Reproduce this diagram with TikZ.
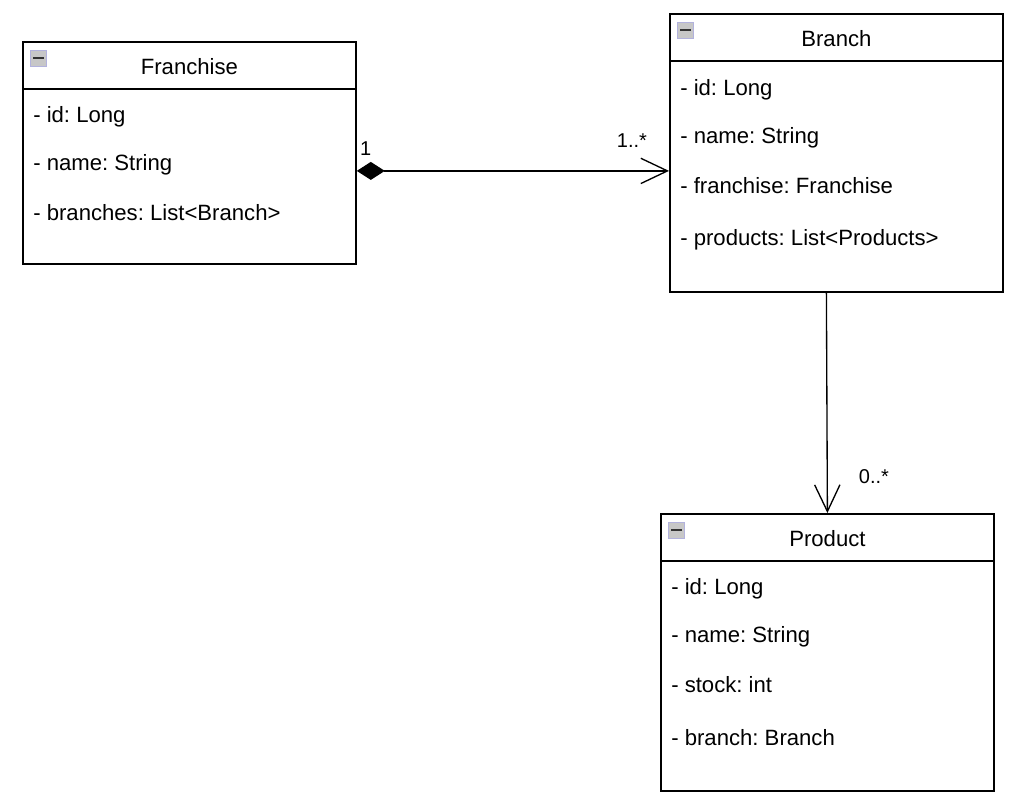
\documentclass[tikz,border=0pt]{standalone}
\usepackage{fontspec}
\setmainfont{Liberation Sans}
\usetikzlibrary{arrows.meta,positioning,calc}
\frenchspacing

\tikzset{
  classbox/.style={draw,line width=1.35pt,minimum width=249.75pt,anchor=north west,inner sep=0pt},
  title/.style={inner sep=0pt,font=\fontsize{16.6}{20}\selectfont},
  attr/.style={anchor=west,inner sep=0pt,font=\fontsize{16.6}{20}\selectfont},
  mult/.style={inner sep=0pt,font=\fontsize{15}{18}\selectfont},
  minusbox/.pic={
    \draw[draw=black!45!blue!30,fill=black!22,line width=0.7pt] (-6pt,-6pt) rectangle (6pt,6pt);
    \draw[line width=1.5pt,black!80] (-3.8pt,0) -- (3.8pt,0);
  }
}

\begin{document}
\begin{tikzpicture}[x=0.75pt,y=-0.75pt]
  \useasboundingbox (0,0) rectangle (1035,800);
  % classes
  \node[classbox,minimum height=166.5pt] (fr) at (22,41) {};
  \node[classbox,minimum height=208.5pt] (br) at (669,13) {};
  \node[classbox,minimum height=207.75pt] (pr) at (660,513) {};
  % headers
  \foreach \c/\t in {fr/Franchise,br/Branch,pr/Product}{
    \draw[line width=1.35pt] ($(\c.north west)+(0,48)$) -- ($(\c.north east)+(0,48)$);
    \pic at ($(\c.north west)+(16.5,17)$) {minusbox};
    \node[title] (\c-title) at ($(\c.north)+(0,26)$) {\t};
  }
  % attributes
  \foreach \t/\dy [count=\i] in {- id: Long/76,- name: String/124,- branches: List<Branch>/172}
    \node[attr] (fr-a\i) at ($(fr.north west)+(11,\dy)$) {\t};
  \foreach \t/\dy [count=\i] in {- id: Long/77,- name: String/125,- franchise: Franchise/173,- products: List<Products>/227}
    \node[attr] (br-a\i) at ($(br.north west)+(11,\dy)$) {\t};
  \foreach \t/\dy [count=\i] in {- id: Long/76,- name: String/124,- stock: int/172,- branch: Branch/225}
    \node[attr] (pr-a\i) at ($(pr.north west)+(11,\dy)$) {\t};
  % associations
  \draw[line width=1pt,{Diamond[length=21pt,width=13.5pt]}-{Straight Barb[length=20pt,width=19pt]}]
    ($(fr.east)+(0,18)$) -- ($(br.west)+(0,18)$);
  \draw[line width=1pt,-{Straight Barb[length=20pt,width=19pt]}] ($(br.south)+(-10,0)$) -- (pr.north);
  \node[mult] (m-fr) at ($(fr.east)+(9,-4)$) {1};
  \node[mult] (m-br) at ($(br.west)+(-37,-12)$) {1..*};
  \node[mult] (m-pr) at ($(pr.north)+(46.5,-36)$) {0..*};
\end{tikzpicture}
\end{document}
